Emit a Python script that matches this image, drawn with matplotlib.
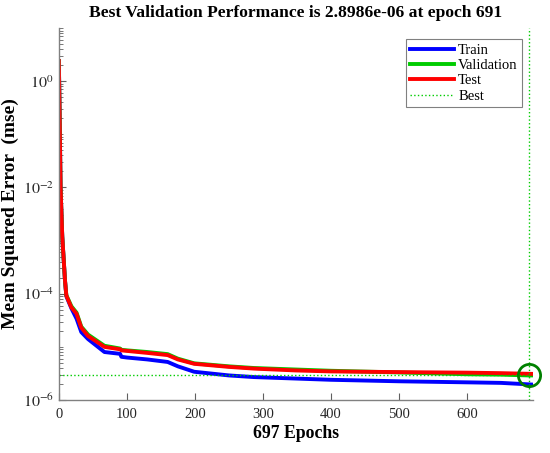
import matplotlib
matplotlib.use("Agg")
import matplotlib.pyplot as plt
import numpy as np
from matplotlib.ticker import LogLocator, NullFormatter

plt.rcParams["font.family"] = ["Liberation Serif", "DejaVu Serif"]
plt.rcParams["mathtext.fontset"] = "stix"

# values (epoch, mse)
train_epochs = [0, 1, 2.5, 5, 9, 11, 18.5, 26, 33, 43, 67, 90, 92, 100, 130, 160,
                175, 199, 250, 287, 400, 500, 600, 650, 697]
train_mse = [2.4, 0.3, 1e-2, 1.2e-3, 1.8e-4, 9.0e-5, 5.3e-5, 3.4e-5, 1.9e-5, 1.4e-5,
             8.0e-6, 7.4e-6, 6.5e-6, 6.3e-6, 5.8e-6, 5.2e-6, 4.3e-6, 3.4e-6, 2.9e-6,
             2.7e-6, 2.4e-6, 2.25e-6, 2.15e-6, 2.1e-6, 1.95e-6]

val_epochs = [0, 1, 2.5, 5, 9, 11, 18.5, 26, 33, 43, 67, 90, 92, 100, 130, 160,
              175, 199, 250, 287, 348, 400, 500, 600, 650, 691, 697]
val_mse = [2.4, 0.3, 1e-2, 1.2e-3, 1.8e-4, 9.4e-5, 5.8e-5, 4.4e-5, 2.4e-5, 1.7e-5,
           1.05e-5, 9.3e-6, 8.8e-6, 8.6e-6, 8.0e-6, 7.3e-6, 6.0e-6, 4.9e-6, 4.3e-6,
           4.0e-6, 3.75e-6, 3.55e-6, 3.3e-6, 3.05e-6, 3.0e-6, 2.8986e-6, 2.9e-6]

test_epochs = [0, 1, 2.5, 5, 9, 11, 18.5, 26, 33, 43, 67, 90, 92, 100, 130, 160,
               175, 199, 250, 287, 348, 400, 500, 600, 650, 697]
test_mse = [2.4, 0.3, 1e-2, 1.2e-3, 1.8e-4, 9.2e-5, 5.5e-5, 4.2e-5, 2.3e-5, 1.6e-5,
            1.0e-5, 9.0e-6, 8.6e-6, 8.4e-6, 7.7e-6, 7.0e-6, 5.8e-6, 4.8e-6, 4.2e-6,
            3.9e-6, 3.6e-6, 3.45e-6, 3.35e-6, 3.27e-6, 3.2e-6, 3.1e-6]

best_epoch = 691
best_perf = 2.8986e-6
n_epochs = 697

fig = plt.figure(figsize=(5.5, 4.53), dpi=100)
ax = fig.add_axes([0.107, 0.117, 0.862, 0.821])

ax.semilogy(train_epochs, train_mse, color=(0, 0, 1), lw=2.8, label="Train")
ax.semilogy(val_epochs, val_mse, color=(0, 0.8, 0), lw=2.8, label="Validation")
ax.semilogy(test_epochs, test_mse, color=(1, 0, 0), lw=2.8, label="Test")
ax.axvline(best_epoch, color=(0, 0.8, 0), ls=":", lw=1.0, label="Best")
ax.plot([0, best_epoch], [best_perf, best_perf], color=(0, 0.8, 0), ls=":", lw=1.0)
ax.plot(best_epoch, best_perf, "o", ms=16, mfc="none", mec=(0, 0.5, 0), mew=2,
        clip_on=False, zorder=5)

ax.set_xlim(0, n_epochs)
ax.set_ylim(1e-6, 1e1)
ax.set_xticks([0, 100, 200, 300, 400, 500, 600])
ax.set_yticks([1e-6, 1e-4, 1e-2, 1e0])
ax.set_yticklabels([r"$10^{-6}$", r"$10^{-4}$", r"$10^{-2}$", r"$10^{0}$"])
ax.yaxis.set_minor_locator(LogLocator(base=10, subs=np.arange(1, 10), numticks=30))
ax.yaxis.set_minor_formatter(NullFormatter())

for side in ["top", "right"]:
    ax.spines[side].set_visible(False)
for side in ["left", "bottom"]:
    ax.spines[side].set_color("#808080")
    ax.spines[side].set_linewidth(1.0)
ax.tick_params(which="both", direction="in", color="#606060", labelcolor="#262626")
ax.tick_params(axis="x", labelsize=10.5, pad=6)
ax.tick_params(axis="y", labelsize=11.5)
ax.tick_params(which="major", length=5)
ax.tick_params(which="minor", length=3)

ax.set_title("Best Validation Performance is 2.8986e-06 at epoch 691",
             fontsize=12.6, fontweight="bold", pad=8)
ax.set_xlabel("697 Epochs", fontsize=12.8, fontweight="bold", labelpad=3)
ax.set_ylabel("Mean Squared Error  (mse)", fontsize=14, fontweight="bold", labelpad=3)

leg = ax.legend(loc="upper right", fontsize=10.5, handlelength=3.0, handletextpad=0.3,
                borderaxespad=0.75, fancybox=False, framealpha=1, labelspacing=0.15,
                borderpad=0.3)
leg.get_frame().set_edgecolor("#808080")
leg.get_frame().set_linewidth(0.8)

fig.savefig("out.png", dpi=100)
